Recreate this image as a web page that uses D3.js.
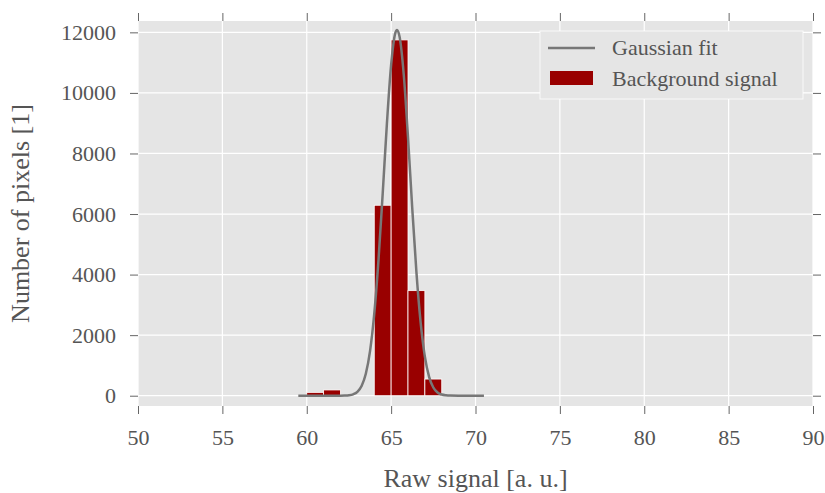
<!DOCTYPE html>
<html lang="en">
<head>
<meta charset="UTF-8">
<title>Background signal histogram</title>
<script src="https://d3js.org/d3.v7.min.js"></script>
<style>
    body { margin: 0; background: #fff; }
    text { font-family: "Liberation Serif", "DejaVu Serif", serif; fill: #555; }
    .grid line { stroke: #fff; stroke-width: 1.2px; }
    .tick line { stroke: #666; }
</style>
</head>
<body>
<script>
    // histogram bins (left edges) and counts
    const binStarts = [60, 61, 62, 63, 64, 65, 66, 67];
    const binCounts = [110, 190, 0, 0, 6290, 11750, 3470, 550];
    const binWidth = 1;

    // Gaussian fit curve
    const fitX = [59.5, 60, 60.5, 61, 61.5, 62, 62.25, 62.5, 62.75, 63, 63.25, 63.5, 63.75,
        64, 64.25, 64.5, 64.75, 65, 65.25, 65.35, 65.5, 65.75, 66, 66.25, 66.5, 66.75,
        67, 67.25, 67.5, 67.75, 68, 68.25, 68.5, 69, 69.5, 70, 70.5];
    const fitY = [0, 0, 0, 0, 0, 1, 5, 15, 47, 129, 322, 725, 1474,
        2701, 4470, 6671, 8986, 10923, 11981, 12080, 11859, 10592, 8537, 6208, 4075, 2412,
        1289, 622, 270, 106, 38, 12, 3, 0, 0, 0, 0];

    const xTicks = [50, 55, 60, 65, 70, 75, 80, 85, 90];
    const yTicks = [0, 2000, 4000, 6000, 8000, 10000, 12000];

    const W = 825, H = 493;
    const m = {left: 138, right: 12, top: 21, bottom: 87};

    const svg = d3.select("body").append("svg")
        .attr("width", W)
        .attr("height", H);

    const x = d3.scaleLinear().domain([50, 90]).range([m.left, W - m.right]);
    const y = d3.scaleLinear().domain([-340, 12375]).range([H - m.bottom, m.top]);

    // plot background
    svg.append("rect")
        .attr("x", m.left).attr("y", m.top)
        .attr("width", W - m.left - m.right)
        .attr("height", H - m.top - m.bottom)
        .attr("fill", "#e5e5e5");

    // grid
    const grid = svg.append("g").attr("class", "grid");
    grid.selectAll("line.v").data(xTicks).enter().append("line")
        .attr("class", "v")
        .attr("x1", d => x(d)).attr("x2", d => x(d))
        .attr("y1", m.top).attr("y2", H - m.bottom);
    grid.selectAll("line.h").data(yTicks).enter().append("line")
        .attr("class", "h")
        .attr("y1", d => y(d)).attr("y2", d => y(d))
        .attr("x1", m.left).attr("x2", W - m.right);

    // bars
    svg.append("g").selectAll("rect")
        .data(binStarts.map((s, i) => ({s: s, c: binCounts[i]})).filter(d => d.c > 0))
        .enter().append("rect")
        .attr("x", d => x(d.s))
        .attr("width", d => x(d.s + binWidth) - x(d.s))
        .attr("y", d => y(d.c))
        .attr("height", d => y(0) - y(d.c))
        .attr("fill", "#990000")
        .attr("stroke", "#fff")
        .attr("stroke-width", 0.8);

    // fit line
    const line = d3.line()
        .x(d => x(d[0]))
        .y(d => y(d[1]))
        .curve(d3.curveMonotoneX);
    svg.append("path")
        .datum(fitX.map((v, i) => [v, fitY[i]]))
        .attr("d", line)
        .attr("fill", "none")
        .attr("stroke", "#777")
        .attr("stroke-width", 2.5);

    // axes, ticks outward on all four sides
    const tickSize = 8;
    const axBottom = svg.append("g")
        .attr("transform", `translate(0,${H - m.bottom})`)
        .call(d3.axisBottom(x).tickValues(xTicks).tickSize(tickSize).tickPadding(15));
    const axTop = svg.append("g")
        .attr("transform", `translate(0,${m.top})`)
        .call(d3.axisTop(x).tickValues(xTicks).tickSize(tickSize).tickFormat(""));
    const axLeft = svg.append("g")
        .attr("transform", `translate(${m.left},0)`)
        .call(d3.axisLeft(y).tickValues(yTicks).tickSize(tickSize).tickPadding(14)
            .tickFormat(d3.format("d")));
    const axRight = svg.append("g")
        .attr("transform", `translate(${W - m.right},0)`)
        .call(d3.axisRight(y).tickValues(yTicks).tickSize(tickSize).tickFormat(""));

    [axBottom, axTop, axLeft, axRight].forEach(a => {
        a.select(".domain").remove();
        a.selectAll("text").attr("font-size", 22).style("fill", "#555")
            .attr("font-family", "Liberation Serif");
    });

    // axis labels
    svg.append("text")
        .attr("x", (m.left + W - m.right) / 2)
        .attr("y", 487)
        .attr("text-anchor", "middle")
        .attr("font-size", 26)
        .text("Raw signal [a. u.]");

    svg.append("text")
        .attr("transform", `translate(29,${(m.top + H - m.bottom) / 2}) rotate(-90)`)
        .attr("text-anchor", "middle")
        .attr("font-size", 26)
        .text("Number of pixels [1]");

    // legend
    const lg = svg.append("g");
    lg.append("rect")
        .attr("x", 540).attr("y", 31)
        .attr("width", 263).attr("height", 68)
        .attr("fill", "#e5e5e5")
        .attr("stroke", "#fff")
        .attr("stroke-opacity", 0.8)
        .attr("stroke-width", 1);
    lg.append("line")
        .attr("x1", 548).attr("x2", 595)
        .attr("y1", 48).attr("y2", 48)
        .attr("stroke", "#777")
        .attr("stroke-width", 2.5);
    lg.append("rect")
        .attr("x", 550).attr("y", 71)
        .attr("width", 43).attr("height", 14)
        .attr("fill", "#990000");
    lg.append("text")
        .attr("x", 612).attr("y", 55)
        .attr("font-size", 22)
        .text("Gaussian fit");
    lg.append("text")
        .attr("x", 612).attr("y", 86)
        .attr("font-size", 22)
        .text("Background signal");
</script>
</body>
</html>
